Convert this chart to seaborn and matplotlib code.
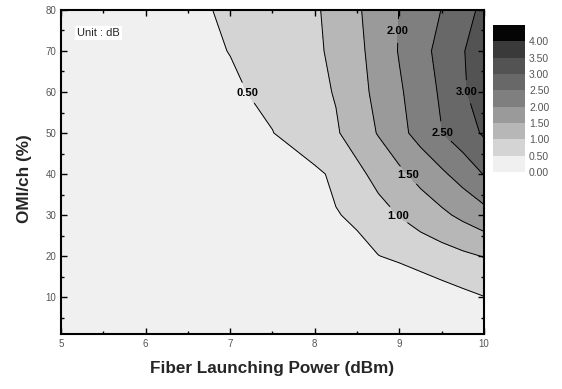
import matplotlib
matplotlib.use("Agg")
import matplotlib.pyplot as plt
from matplotlib.colors import ListedColormap, BoundaryNorm
from matplotlib.cm import ScalarMappable
from matplotlib.ticker import MultipleLocator
import seaborn as sns

# Fiber launching power (dBm) and OMI per channel (%) sampling grid
power_dbm = [5, 6, 7, 7.5, 8, 8.25, 8.5, 8.75, 9, 9.25, 9.5, 9.75, 10]
omi_pct = [0, 10, 20, 30, 40, 50, 60, 70, 80]

# Penalty (dB) on the grid, one row per OMI value
penalty_db = [
    [0.00, 0.00, 0.00, 0.00, 0.00, 0.00, 0.00, 0.01, 0.02, 0.08, 0.14, 0.20, 0.26],
    [0.00, 0.01, 0.02, 0.02, 0.03, 0.03, 0.04, 0.04, 0.05, 0.17, 0.29, 0.39, 0.49],
    [0.00, 0.13, 0.24, 0.30, 0.34, 0.37, 0.40, 0.49, 0.59, 0.70, 0.80, 0.91, 1.02],
    [0.00, 0.15, 0.30, 0.38, 0.45, 0.48, 0.56, 0.83, 1.02, 1.21, 1.40, 1.61, 1.82],
    [0.00, 0.16, 0.31, 0.39, 0.42, 0.58, 0.88, 1.15, 1.40, 1.66, 1.92, 2.20, 2.52],
    [0.00, 0.20, 0.39, 0.49, 0.79, 0.95, 1.22, 1.53, 1.86, 2.18, 2.49, 2.77, 3.06],
    [0.00, 0.22, 0.43, 0.61, 0.88, 1.03, 1.33, 1.63, 1.94, 2.25, 2.57, 2.93, 3.29],
    [0.00, 0.25, 0.51, 0.71, 0.93, 1.09, 1.38, 1.70, 2.03, 2.34, 2.65, 2.97, 3.29],
    [0.00, 0.27, 0.56, 0.75, 0.95, 1.13, 1.44, 1.72, 2.01, 2.25, 2.51, 2.81, 3.12],
]

band_levels = [0.0, 0.5, 1.0, 1.5, 2.0, 2.5, 3.0, 3.5, 4.0, 4.5]
line_levels = [0.5, 1.0, 1.5, 2.0, 2.5, 3.0]
band_colors = ["#f0f0f0", "#d4d4d4", "#b7b7b7", "#9a9a9a", "#7f7f7f",
               "#686868", "#535353", "#3a3a3a", "#050505"]
colorbar_ticks = [0.0, 0.5, 1.0, 1.5, 2.0, 2.5, 3.0, 3.5, 4.0]

# where each contour label sits (power, OMI)
label_spots = [(7.21, 59.8), (8.98, 29.8), (9.12, 40.0),
               (8.94, 74.9), (9.50, 50.0), (9.75, 59.8)]

sns.set_style("ticks")
plt.rcParams["font.family"] = ["Liberation Sans", "DejaVu Sans"]

fig = plt.figure(figsize=(5.62, 3.89), dpi=100)
ax = fig.add_axes([0.1085, 0.1414, 0.7527, 0.833])
ax.set_axisbelow(False)

cmap = ListedColormap(sns.color_palette(band_colors))
norm = BoundaryNorm(band_levels, cmap.N)

ax.contourf(power_dbm, omi_pct, penalty_db, levels=band_levels,
            cmap=cmap, norm=norm)
lines = ax.contour(power_dbm, omi_pct, penalty_db, levels=line_levels,
                   colors="black", linewidths=0.7)
labels = ax.clabel(lines, fmt="%.2f", fontsize=8, inline=True,
                   inline_spacing=1, manual=label_spots)
for t in labels:
    t.set_fontweight("bold")
    t.set_color("black")
    t.set_rotation(0)

ax.set_xlim(5, 10)
ax.set_ylim(1, 80)
ax.xaxis.set_major_locator(MultipleLocator(1))
ax.xaxis.set_minor_locator(MultipleLocator(0.5))
ax.yaxis.set_major_locator(MultipleLocator(10))
ax.yaxis.set_minor_locator(MultipleLocator(5))
ax.tick_params(which="both", direction="in", top=True, right=True,
               labelsize=7, labelcolor="#555555", width=1.0, color="black")
ax.tick_params(which="major", length=4.5)
ax.tick_params(which="minor", length=2.5)
for s in ax.spines.values():
    s.set_linewidth(1.5)
    s.set_color("black")

ax.set_xlabel("Fiber Launching Power (dBm)", fontsize=12.3,
              fontweight="bold", labelpad=9)
ax.set_ylabel("OMI/ch (%)", fontsize=12.3, fontweight="bold")
ax.yaxis.set_label_coords(-0.068, 0.478)

ax.text(0.038, 0.929, "Unit : dB", transform=ax.transAxes, fontsize=8,
        va="center", ha="left",
        bbox=dict(facecolor="white", edgecolor="none", pad=1.5))

cax = fig.add_axes([0.877, 0.558, 0.057, 0.378])
cb = fig.colorbar(ScalarMappable(norm=norm, cmap=cmap), cax=cax,
                  boundaries=band_levels, ticks=colorbar_ticks, format="%.2f")
cb.outline.set_visible(False)
cax.minorticks_off()
cax.tick_params(which="both", length=0, labelsize=7.5,
                labelcolor="#555555", pad=3)

fig.savefig("out.png", dpi=100)
